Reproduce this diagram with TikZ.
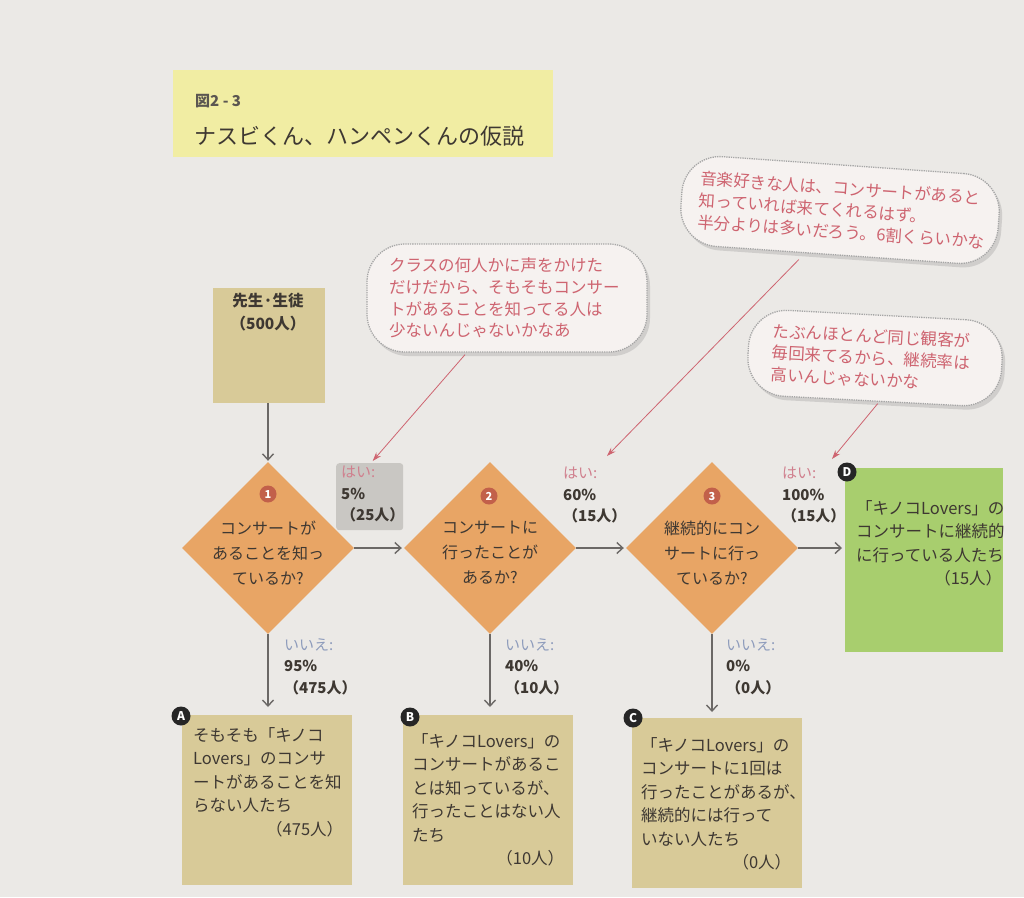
\documentclass[tikz,border=0pt]{standalone}
\usepackage{fontspec}
\setmainfont{Noto Sans CJK JP}
\usetikzlibrary{shapes.geometric,arrows.meta,shadows,calc}
\definecolor{bgc}{HTML}{EBE9E6}
\definecolor{titlec}{HTML}{F1EDA3}
\definecolor{tanc}{HTML}{D8CA98}
\definecolor{orc}{HTML}{E8A565}
\definecolor{grnc}{HTML}{A8CE6E}
\definecolor{txtc}{HTML}{3E3832}
\definecolor{redc}{HTML}{CE6470}
\definecolor{pinkc}{HTML}{D0808E}
\definecolor{bluec}{HTML}{8E9CBC}
\definecolor{arrc}{HTML}{6B6866}
\definecolor{badgec}{HTML}{C2604A}
\definecolor{grayc}{HTML}{C9C7C3}
\definecolor{bubc}{HTML}{F6F2F0}
\begin{document}
\begin{tikzpicture}[x=1pt,y=-1pt,
  panel/.style={draw=none, inner sep=0, anchor=north west},
  btext/.style={anchor=north west, align=left, inner sep=0, text=txtc, font=\fontsize{16.5}{23.5}\selectfont},
  dia/.style={diamond, aspect=1, fill=orc, minimum width=172, minimum height=172, inner sep=0},
  dtext/.style={align=center, inner sep=0, text=txtc, font=\fontsize{16}{25}\selectfont},
  numbadge/.style={circle, fill=badgec, text=white, inner sep=0, minimum size=17, font=\bfseries\fontsize{11}{11}\selectfont},
  letbadge/.style={circle, fill=black!85, text=white, inner sep=0, minimum size=19, font=\bfseries\fontsize{12}{12}\selectfont},
  lbl/.style={anchor=north west, align=left, inner sep=0, text=txtc, font=\bfseries\fontsize{15}{21.5}\selectfont},
  arr/.style={draw=arrc, line width=1.4pt, -{Straight Barb[length=6pt,width=11pt,line width=1.4pt]}},
  bubble/.style={draw=black!35, densely dotted, line width=1.3pt, fill=bubc, rounded corners=38pt,
     drop shadow={shadow xshift=3pt, shadow yshift=-4pt, opacity=0.25},
     align=left, text=redc, font=\fontsize{16.5}{21.8}\selectfont, inner sep=0},
  tail/.style={draw=redc, line width=0.8pt, -{Stealth[length=9pt,width=6pt]}}
]
\useasboundingbox (0,0) rectangle (1024,897);
\fill[bgc] (0,0) rectangle (1024,897);

% title
\node[panel, fill=titlec, minimum width=380, minimum height=87] (title) at (173,70) {};
\node[anchor=west, inner sep=0, text=txtc!85, font=\bfseries\fontsize{15}{15}\selectfont] (fig) at (195,101) {図2 - 3};
\node[anchor=west, inner sep=0, text=txtc, font=\fontsize{22}{22}\selectfont] (ttl) at (194,136) {ナスビくん、ハンペンくんの仮説};

% source
\node[panel, fill=tanc, minimum width=112, minimum height=115] (src) at (213,288) {};
\node[anchor=north, align=center, inner sep=0, text=txtc, font=\bfseries\fontsize{15.5}{23.5}\selectfont] (srct) at (268,293) {先生·生徒\\（500人）};

% diamonds
\node[dia] (d1) at (268,548) {};
\node[dia] (d2) at (490,548) {};
\node[dia] (d3) at (712,548) {};
\node[numbadge] (n1) at (268,494) {1};
\node[numbadge] (n2) at (489,496) {2};
\node[numbadge] (n3) at (712,496) {3};
\node[dtext] (t1) at (268,553) {コンサートが\\あることを知っ\\ているか?};
\node[dtext] (t2) at (490,553) {コンサートに\\行ったことが\\あるか?};
\node[dtext] (t3) at (712,553) {継続的にコン\\サートに行っ\\ているか?};

% result boxes
\node[panel, fill=tanc, minimum width=170, minimum height=170] (ba) at (182,715) {};
\node[panel, fill=tanc, minimum width=170, minimum height=170] (bb) at (403,715) {};
\node[panel, fill=tanc, minimum width=170, minimum height=170] (bc) at (632,718) {};
\node[panel, fill=grnc, minimum width=158, minimum height=184] (bd) at (845,468) {};

\node[letbadge] (la) at (181,716) {A};
\node[letbadge] (lb) at (410,717) {B};
\node[letbadge] (lc) at (633,718) {C};
\node[letbadge] (ld) at (847,472) {D};

\node[btext, text width=150] (ta) at (193,727) {そもそも「キノコ\\Lovers」のコンサ\\ートがあることを知\\らない人たち\\\hfill（475人）};
\node[btext, text width=152] (tb) at (412,733) {「キノコLovers」の\\コンサートがあるこ\\とは知っているが、\\行ったことはない人\\たち\\\hfill（10人）};
\node[btext, text width=150] (tc) at (641,737) {「キノコLovers」の\\コンサートに1回は\\行ったことがあるが、\\継続的には行って\\いない人たち\\\hfill（0人）};
\node[btext, text width=146] (td) at (856,500) {「キノコLovers」の\\コンサートに継続的\\に行っている人たち\\\hfill（15人）};

% yes labels
\node[panel, fill=grayc, rounded corners=3pt, minimum width=67, minimum height=67] (yes1bg) at (336,463) {};
\node[lbl] (yes1) at (341,466) {\textcolor{pinkc}{\mdseries はい:}\\5\%\\（25人）};
\node[lbl] (yes2) at (563,467) {\textcolor{pinkc}{\mdseries はい:}\\60\%\\（15人）};
\node[lbl] (yes3) at (782,467) {\textcolor{pinkc}{\mdseries はい:}\\100\%\\（15人）};

% no labels
\node[lbl] (no1) at (284,638) {\textcolor{bluec}{\mdseries いいえ:}\\95\%\\（475人）};
\node[lbl] (no2) at (505,638) {\textcolor{bluec}{\mdseries いいえ:}\\40\%\\（10人）};
\node[lbl] (no3) at (726,638) {\textcolor{bluec}{\mdseries いいえ:}\\0\%\\（0人）};

% arrows
\draw[arr, shorten >=1pt] (src.south -| d1.north) -- (d1.north);
\draw[arr, shorten >=2pt] (d1.east) -- (d2.west);
\draw[arr, shorten >=2pt] (d2.east) -- (d3.west);
\draw[arr, shorten >=3pt] (d3.east) -- (d3.east -| bd.west);
\draw[arr, shorten >=8pt] (d1.south) -- (d1.south |- ba.north);
\draw[arr, shorten >=8pt] (d2.south) -- (d2.south |- bb.north);
\draw[arr, shorten >=6pt] (d3.south) -- (d3.south |- bc.north);

% bubbles
\node[bubble, minimum width=280, minimum height=108, text width=236] (b1) at (507,298) {クラスの何人かに声をかけた\\だけだから、そもそもコンサー\\トがあることを知ってる人は\\少ないんじゃないかなあ};
\node[bubble, rotate=-4, minimum width=318, minimum height=90, text width=282] (b2) at (840,210) {音楽好きな人は、コンサートがあると\\知っていれば来てくれるはず。\\半分よりは多いだろう。6割くらいかな};
\node[bubble, rotate=-3, minimum width=254, minimum height=86, text width=206] (b3) at (875,358) {たぶんほとんど同じ観客が\\毎回来てるから、継続率は\\高いんじゃないかな};

\coordinate (tip2) at (607,456);
\coordinate (tip3) at (832,459);
\draw[tail] ($(b1.south)+(-42,2)$) -- ($(yes1bg.north)+(3,-2)$);
\draw[tail] ($(b2.south)+(-38,4)$) -- (tip2);
\draw[tail] ($(b3.south)+(5,2)$) -- (tip3);
\end{tikzpicture}
\end{document}
